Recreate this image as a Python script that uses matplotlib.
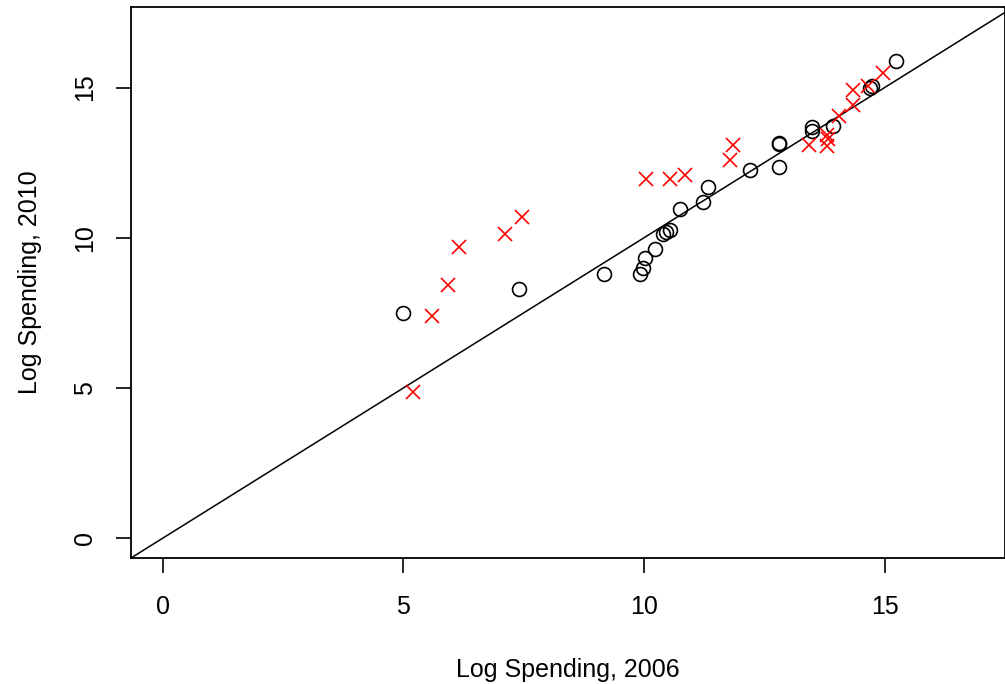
import matplotlib.pyplot as plt

plt.rcParams['font.family'] = ['Liberation Sans', 'DejaVu Sans']

# black circles
circ_x = [4.99, 7.40, 9.17, 9.92, 9.98, 10.01, 10.22, 10.40, 10.46, 10.53,
          10.75, 11.22, 11.32, 12.20, 12.81, 12.81, 12.81, 13.50, 13.49,
          13.92, 14.73, 14.70, 15.23]
circ_y = [7.50, 8.30, 8.80, 8.80, 8.98, 9.31, 9.64, 10.13, 10.18, 10.27,
          10.96, 11.19, 11.70, 12.27, 13.16, 13.12, 12.34, 13.69, 13.55,
          13.71, 15.04, 15.00, 15.87]

# red crosses
cross_x = [5.20, 5.60, 5.93, 6.16, 7.11, 7.46, 10.04, 10.54, 10.85, 11.79,
           11.84, 13.42, 13.81, 13.82, 13.80, 14.05, 14.35, 14.35, 14.66, 14.96]
cross_y = [4.86, 7.40, 8.42, 9.68, 10.12, 10.68, 11.96, 11.96, 12.10, 12.60,
           13.10, 13.10, 13.43, 13.28, 13.07, 14.05, 14.41, 14.91, 15.04, 15.49]

xticks = [0, 5, 10, 15]
yticks = [0, 5, 10, 15]

fig = plt.figure(figsize=(10.05, 6.84), dpi=100)
ax = fig.add_axes([131 / 1005, 1 - 558 / 684, 1 - 131 / 1005, 551 / 684])

ax.axline((0, 0), slope=1, color='black', lw=1.1)
ax.plot(circ_x, circ_y, 'o', ms=10, mfc='none', mec='black', mew=1.2)
ax.plot(cross_x, cross_y, 'x', ms=10, color='red', mew=1.2)

ax.set_xlim(-0.66, 17.5)
ax.set_ylim(-0.66, 17.68)
ax.set_xticks(xticks)
ax.set_yticks(yticks)
ax.tick_params(direction='out', length=10.5, width=1.2, labelsize=18)
ax.tick_params(axis='x', pad=16)
ax.tick_params(axis='y', pad=14)
for lab in ax.get_yticklabels():
    lab.set_rotation(90)
    lab.set_va('center')
for s in ax.spines.values():
    s.set_linewidth(1.3)

ax.set_xlabel('Log Spending, 2006', fontsize=18, labelpad=28)
ax.set_ylabel('Log Spending, 2010', fontsize=18, labelpad=22)

fig.savefig('out.png', dpi=100)
